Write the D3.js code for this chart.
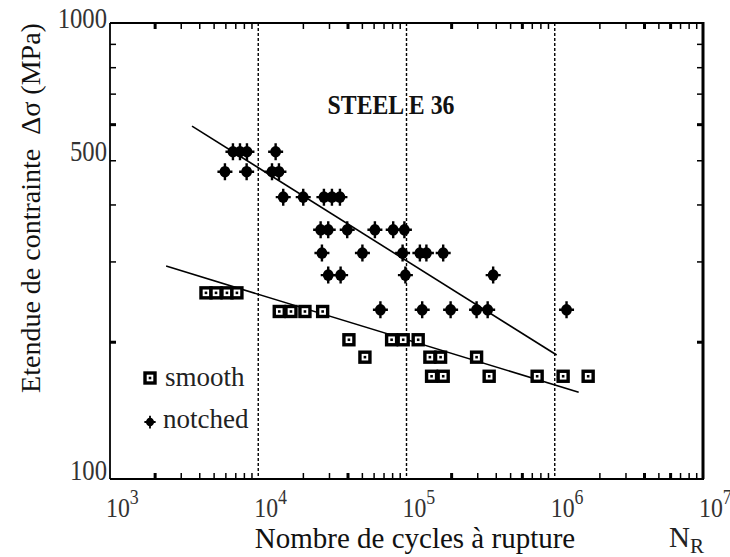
<!DOCTYPE html>
<html>
<head>
<meta charset="utf-8">
<script src="https://cdn.jsdelivr.net/npm/d3@7"></script>
<style>
  html, body { margin: 0; padding: 0; background: #fff; }
  svg { display: block; }
  svg text { font-family: 'Liberation Serif', 'Times New Roman', 'DejaVu Serif', serif; }
</style>
</head>
<body>
<svg id="chart" width="730" height="557"></svg>
<script>
// ---- data (N cycles, stress range MPa) ----
const smoothN = [4440, 5190, 6150, 7180, 13860, 16620, 20650, 27190, 40890, 79350, 95000, 119900,
                 52430, 143800, 169800, 297000, 147600, 176800, 361100, 760800, 1139000, 1680000];
const smoothS = [256, 256, 256, 256, 233, 233, 233, 233, 202, 202, 202, 202,
                 185, 185, 185, 185, 168, 168, 168, 168, 168, 168];

const notchedN = [6750, 7530, 8390, 13100, 5960, 8350, 12380, 13790,
                  14740, 20110, 27730, 31410, 35560,
                  26350, 29650, 39820, 61210, 81340, 96800,
                  26890, 50420, 94120, 123100, 136200, 176800,
                  29650, 35940, 98300, 384200,
                  66680, 127600, 198400, 297000, 352800, 1201000];
const notchedS = [522, 522, 522, 522, 472, 472, 472, 472,
                  415, 415, 415, 415, 415,
                  352, 352, 352, 352, 352, 352,
                  313, 313, 313, 313, 313, 313,
                  280, 280, 280, 280,
                  235, 235, 235, 235, 235, 235];

const notchedFitN = [3575, 1030000];
const notchedFitS = [594, 187];
const smoothFitN = [2390, 1450000];
const smoothFitS = [293, 155];

const xDecades = [1e3, 1e4, 1e5, 1e6, 1e7];
const xExponents = ["3", "4", "5", "6", "7"];
const yLabels = [100, 500, 1000];
const gridDecades = [1e4, 1e5, 1e6];
const boldXTicks = [2e3, 4e4, 2e5, 6e5, 4e6, 6e6];
const boldYTicks = [200, 600];

const titleText = "STEEL E 36";
const xTitle = "Nombre de cycles à rupture";
const yTitle = "Etendue de contrainte  Δσ (MPa)";
const legendItems = ["smooth", "notched"];

// ---- layout ----
const L = 110, R = 703, T = 23, B = 479;
const FONT = "'Liberation Serif', 'Times New Roman', 'DejaVu Serif', serif";
const svg = d3.select("#chart");
const x = d3.scaleLog().domain([1e3, 1e7]).range([L, R]);
const y = d3.scaleLog().domain([100, 1000]).range([B, T]);

// minor tick values
const xMinor = [];
for (let d = 3; d < 7; d++) for (let k = 2; k <= 9; k++) xMinor.push(k * Math.pow(10, d));
const yMinor = [];
for (let k = 2; k <= 9; k++) yMinor.push(k * 100);

function styleAxis(g) {
  g.select(".domain").remove();
  g.selectAll(".tick line").attr("stroke", "#000")
    .attr("stroke-width", d => (boldXTicks.includes(d) || boldYTicks.includes(d)) ? 3 : 1.5);
  g.selectAll(".tick text").remove();
}
svg.append("g").attr("transform", `translate(0,${B})`)
  .call(d3.axisBottom(x).tickValues(xMinor).tickSize(-6).tickFormat("")).call(styleAxis);
svg.append("g").attr("transform", `translate(0,${T})`)
  .call(d3.axisTop(x).tickValues(xMinor).tickSize(-6).tickFormat("")).call(styleAxis);
svg.append("g").attr("transform", `translate(${L},0)`)
  .call(d3.axisLeft(y).tickValues(yMinor).tickSize(-6).tickFormat("")).call(styleAxis);
svg.append("g").attr("transform", `translate(${R},0)`)
  .call(d3.axisRight(y).tickValues(yMinor).tickSize(-6).tickFormat("")).call(styleAxis);

// dotted decade lines
svg.append("g").selectAll("line").data(gridDecades).join("line")
  .attr("x1", d => x(d)).attr("x2", d => x(d)).attr("y1", T).attr("y2", B)
  .attr("stroke", "#000").attr("stroke-width", 1.4).attr("stroke-dasharray", "3,2");

// frame
svg.append("line").attr("x1", L).attr("x2", L).attr("y1", T).attr("y2", B).attr("stroke", "#000").attr("stroke-width", 1.8);
svg.append("line").attr("x1", R).attr("x2", R).attr("y1", T - 1).attr("y2", B).attr("stroke", "#000").attr("stroke-width", 3);
svg.append("line").attr("x1", L).attr("x2", R + 1).attr("y1", T).attr("y2", T).attr("stroke", "#000").attr("stroke-width", 2.2);
svg.append("line").attr("x1", L).attr("x2", R + 1).attr("y1", B).attr("y2", B).attr("stroke", "#000").attr("stroke-width", 2);

// y tick labels (slightly condensed serif digits)
svg.append("g").selectAll("text").data(yLabels).join("text")
  .attr("transform", d => `translate(${L - 3},${y(d) + (d === 1000 ? 5 : 1)}) scale(0.85,1)`)
  .attr("text-anchor", "end").attr("font-size", 29).attr("font-family", FONT).attr("fill", "#333")
  .text(d => d);

// x tick labels 10^n
const xl = svg.append("g").selectAll("g").data(xDecades).join("g")
  .attr("transform", d => `translate(${x(d) - 4},${B + 38}) scale(0.85,1)`);
xl.append("text").attr("font-size", 28).attr("font-family", FONT).attr("fill", "#333").text("10");
xl.append("text").attr("x", 28).attr("y", -13).attr("font-size", 21).attr("font-family", FONT).attr("fill", "#333")
  .text((d, i) => xExponents[i]);

// axis titles
svg.append("text").attr("x", 415).attr("y", 548).attr("text-anchor", "middle")
  .attr("font-size", 29).attr("font-family", FONT).attr("fill", "#111").text(xTitle);
const nr = svg.append("text").attr("x", 669).attr("y", 547).attr("font-size", 29).attr("font-family", FONT).attr("fill", "#222");
nr.append("tspan").text("N");
nr.append("tspan").attr("font-size", 21).attr("dy", 6).text("R");

svg.append("text").attr("transform", "translate(40,208) rotate(-90)")
  .attr("text-anchor", "middle").attr("font-size", 28).attr("font-family", FONT).attr("fill", "#111")
  .style("white-space", "pre").text(yTitle);

// title
svg.append("text").attr("transform", "translate(391,114) scale(0.85,1)").attr("text-anchor", "middle")
  .attr("font-size", 28).attr("font-weight", "bold").attr("font-family", FONT).attr("fill", "#111").text(titleText);

// fit lines
const line = d3.line().x(d => x(d[0])).y(d => y(d[1]));
svg.append("path").datum(notchedFitN.map((n, i) => [n, notchedFitS[i]]))
  .attr("d", line).attr("fill", "none").attr("stroke", "#000").attr("stroke-width", 1.6);
svg.append("path").datum(smoothFitN.map((n, i) => [n, smoothFitS[i]]))
  .attr("d", line).attr("fill", "none").attr("stroke", "#000").attr("stroke-width", 1.6);

// marker drawers
function drawSquare(g) {
  g.append("rect").attr("x", -5).attr("y", -5).attr("width", 10).attr("height", 10)
    .attr("fill", "#fff").attr("stroke", "#000").attr("stroke-width", 3.4);
  g.append("rect").attr("x", -1.3).attr("y", -1.3).attr("width", 2.6).attr("height", 2.6).attr("fill", "#000");
}
function drawStar(g) {
  g.append("ellipse").attr("rx", 5.4).attr("ry", 5.8).attr("fill", "#000");
  g.append("path").attr("d", "M0,-8.5V8.5M-7.5,0H7.5").attr("stroke", "#000").attr("stroke-width", 2.4);
}

const smoothData = smoothN.map((n, i) => [n, smoothS[i]]);
const notchedData = notchedN.map((n, i) => [n, notchedS[i]]);

svg.append("g").selectAll("g").data(smoothData).join("g")
  .attr("transform", d => `translate(${x(d[0])},${y(d[1])})`).each(function () { drawSquare(d3.select(this)); });
svg.append("g").selectAll("g").data(notchedData).join("g")
  .attr("transform", d => `translate(${x(d[0])},${y(d[1])})`).each(function () { drawStar(d3.select(this)); });

// legend
const lg = svg.append("g");
const l1 = lg.append("g").attr("transform", "translate(150,378)"); drawSquare(l1);
lg.append("text").attr("x", 165).attr("y", 386).attr("font-size", 27).attr("font-family", FONT).attr("fill", "#222").text(legendItems[0]);
const l2 = lg.append("g").attr("transform", "translate(150,422) scale(0.75)"); drawStar(l2);
lg.append("text").attr("x", 163).attr("y", 428).attr("font-size", 27).attr("font-family", FONT).attr("fill", "#222").text(legendItems[1]);
</script>
</body>
</html>
